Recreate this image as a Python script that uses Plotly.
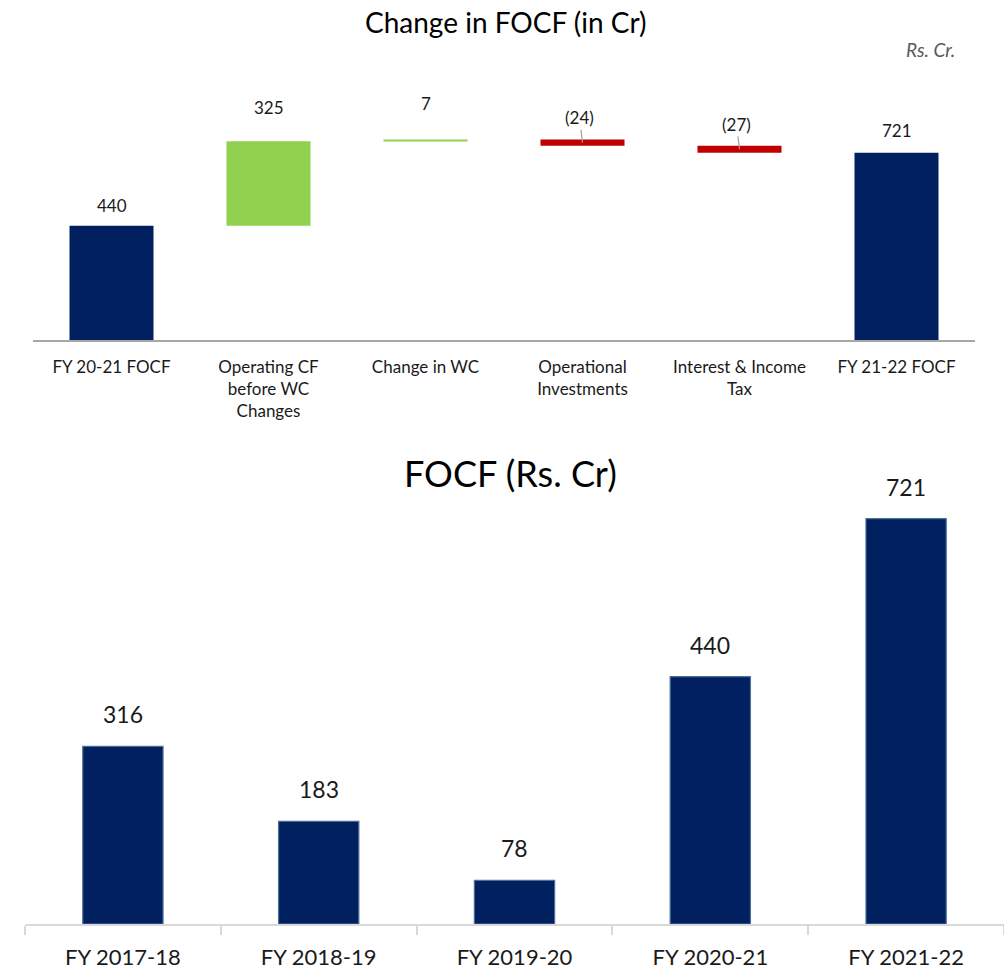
import plotly.graph_objects as go

# ---- data ----
wf_categories = ["FY 20-21 FOCF", "Operating CF<br>before WC<br>Changes", "Change in WC",
                 "Operational<br>Investments", "Interest & Income<br>Tax", "FY 21-22 FOCF"]
wf_values = [440, 325, 7, -24, -27, 721]
wf_measures = ["absolute", "relative", "relative", "relative", "relative", "total"]
wf_labels = ["440", "325", "7", "(24)", "(27)", "721"]

years = ["FY 2017-18", "FY 2018-19", "FY 2019-20", "FY 2020-21", "FY 2021-22"]
focf = [316, 183, 78, 440, 721]

NAVY = "#002060"
GREEN = "#92D050"
RED = "#C00000"
FONT = "Lato"

fig = go.Figure()

fig.add_trace(go.Waterfall(
    x=wf_categories, y=wf_values, measure=wf_measures,
    xaxis="x", yaxis="y",
    totals=dict(marker=dict(color=NAVY, line=dict(width=0))),
    increasing=dict(marker=dict(color=GREEN, line=dict(width=0))),
    decreasing=dict(marker=dict(color=RED, line=dict(width=0))),
    connector=dict(visible=False),
    base=0,
    textposition="none",
    showlegend=False,
))

# Bar tops for label positions (computed through cumulative values)
tops = []
run = 0
for m, v in zip(wf_measures, wf_values):
    if m == "absolute":
        run = v
        tops.append(v)
    elif m == "total":
        tops.append(run)
    else:
        start = run
        run += v
        tops.append(max(start, run))

label_shift = [20, 34, 36, 0, 0, 22]
for i, (cat, top, lab) in enumerate(zip(wf_categories, tops, wf_labels)):
    if wf_values[i] < 0 and wf_measures[i] == "relative":
        mid = top + wf_values[i] / 2
        fig.add_annotation(x=cat, y=mid, xref="x", yref="y", text=lab,
                           showarrow=True, arrowhead=0, arrowwidth=1.2,
                           arrowcolor="#a0a0a0", ax=-3, ay=-25, standoff=0,
                           font=dict(size=17, color="#1a1a1a", family=FONT))
    else:
        fig.add_annotation(x=cat, y=top, xref="x", yref="y", text=lab,
                           showarrow=False, yshift=label_shift[i],
                           font=dict(size=17, color="#1a1a1a", family=FONT))

fig.add_trace(go.Bar(
    x=years, y=focf, xaxis="x2", yaxis="y2",
    marker=dict(color=NAVY, line=dict(color="#4F6F9A", width=1.2)),
    textposition="none",
    cliponaxis=False, showlegend=False,
))
for yr, v in zip(years, focf):
    fig.add_annotation(x=yr, y=v, xref="x2", yref="y2", text=str(v),
                       showarrow=False, yshift=32,
                       font=dict(size=23, color="#1a1a1a", family=FONT))

H = 970
W = 1004
def py(px):
    return 1 - px / H

fig.update_layout(
    width=W, height=H,
    margin=dict(l=0, r=0, t=0, b=0),
    paper_bgcolor="white", plot_bgcolor="white",
    waterfallgap=0.465,
    bargap=0.59,
    font=dict(family=FONT, color="#1a1a1a"),
    xaxis=dict(domain=[33 / W, 975 / W], anchor="y", showgrid=False,
               showline=True, linecolor="#a6a6a6", linewidth=2,
               ticks="", ticklabelstandoff=10,
               tickfont=dict(size=17, family=FONT, color="#1a1a1a"),
               fixedrange=True),
    yaxis=dict(domain=[py(342), py(90)], anchor="x", range=[0, (342 - 90) / 0.2614],
               visible=False, showgrid=False, zeroline=False),
    xaxis2=dict(domain=[25 / W, 1.0], anchor="y2", showgrid=False,
                showline=True, linecolor="#d9d9d9", linewidth=2,
                ticks="outside", tickson="boundaries", ticklen=9, tickcolor="#d9d9d9",
                tickwidth=2, ticklabelstandoff=12,
                tickfont=dict(size=22, family=FONT, color="#1a1a1a")),
    yaxis2=dict(domain=[py(929), py(470)], anchor="x2", range=[0, (929 - 470) / 0.5655],
                visible=False, showgrid=False, zeroline=False),
)

fig.add_annotation(x=506 / W, y=py(22), xref="paper", yref="paper",
                   xanchor="center", yanchor="middle",
                   text="Change in FOCF (in Cr)", showarrow=False,
                   font=dict(size=28, family=FONT, color="#000000"))
fig.add_annotation(x=930 / W, y=py(50), xref="paper", yref="paper",
                   xanchor="center", yanchor="middle",
                   text="<i>Rs. Cr.</i>", showarrow=False,
                   font=dict(size=19, family=FONT, color="#595959"))
fig.add_annotation(x=510 / W, y=py(475), xref="paper", yref="paper",
                   xanchor="center", yanchor="middle",
                   text="FOCF (Rs. Cr)", showarrow=False,
                   font=dict(size=36, family=FONT, color="#000000"))

fig.write_html("out.html", config={"displayModeBar": False},
               post_script="document.body.style.margin='0';document.body.style.overflow='hidden';")
